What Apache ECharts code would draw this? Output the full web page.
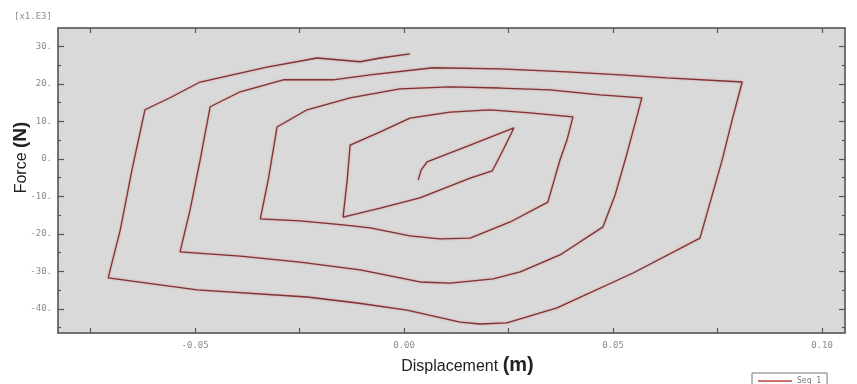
<!DOCTYPE html>
<html>
<head>
<meta charset="utf-8">
<script src="https://cdn.jsdelivr.net/npm/echarts@6/dist/echarts.min.js"></script>
<style>
html,body{margin:0;padding:0;background:#fff;}
#chart{width:857px;height:384px;}
</style>
</head>
<body>
<div id="chart"></div>
<script>
// Displacement (m)
const displacement = [
  0.0034, 0.0041, 0.0055, 0.0158, 0.0263, 0.0237, 0.0211, 0.0158, 0.0038, -0.0057, -0.0146, -0.0136, -0.0129,
  -0.0057, 0.0014, 0.0110, 0.0206, 0.0301, 0.0404,
  0.0390, 0.0373, 0.0344, 0.0254, 0.0158, 0.0086, 0.0014, -0.0081, -0.0146, -0.0249, -0.0344,
  -0.0325, -0.0313, -0.0304,
  -0.0232, -0.0129, -0.0010, 0.0110, 0.0230, 0.0349, 0.0469, 0.0569,
  0.0555, 0.0529, 0.0505, 0.0476, 0.0373, 0.0278, 0.0213, 0.0110, 0.0038, -0.0105, -0.0249, -0.0392, -0.0536,
  -0.0512, -0.0488, -0.0464,
  -0.0392, -0.0289, -0.0170, -0.0081, 0.0069, 0.0230, 0.0390, 0.0517, 0.0629, 0.0809,
  0.0785, 0.0761, 0.0708, 0.0548, 0.0366, 0.0246, 0.0182, 0.0134, 0.0007, -0.0112, -0.0232, -0.0495, -0.0708,
  -0.0679, -0.0651, -0.0620,
  -0.0560, -0.0488, -0.0328, -0.0208, -0.0105, -0.0057, 0.0014
];
// Force (N)
const force = [
  -5600, -2900, -800, 3700, 8300, 2400, -3200, -5100, -10400, -13100, -15500, -5600, 3700,
  7200, 10900, 12500, 13100, 12300, 11200,
  5100, -300, -11500, -16800, -21100, -21300, -20500, -18400, -17600, -16500, -16000,
  -5600, 2400, 8500,
  13100, 16300, 18700, 19200, 18900, 18400, 17100, 16300,
  10400, -300, -9600, -18100, -25600, -30100, -32000, -33100, -32800, -29600, -27500, -25900, -24800,
  -13600, -300, 13900,
  17900, 21100, 21100, 22400, 24300, 24000, 23200, 22400, 21600, 20500,
  10400, -300, -21100, -30400, -39700, -43700, -44000, -43500, -40300, -38400, -36800, -34900, -31700,
  -18900, -2900, 13100,
  16300, 20500, 24500, 26900, 25900, 26900, 28000
];
const xLabelValues = [-0.05, 0.00, 0.05, 0.10];
const xTickValues = [-0.075, -0.05, -0.025, 0.00, 0.025, 0.05, 0.075, 0.10];
const yLabelValues = [-40000, -30000, -20000, -10000, 0, 10000, 20000, 30000];
const yMinorValues = [-45000, -35000, -25000, -15000, -5000, 5000, 15000, 25000];
const seriesName = 'Seq 1';

const points = displacement.map((d, i) => [d, force[i]]);
const X_MIN = -0.0828, X_MAX = 0.1055, Y_MIN = -46400, Y_MAX = 34900;

const chart = echarts.init(document.getElementById('chart'), null, {renderer: 'canvas'});
const tickFont = {fontFamily: 'DejaVu Sans Mono', fontSize: 9, color: '#8a8a8a'};
function xAxisDef(pos, showLabel, ticks, len, showLine, nameObj) {
  const a = {
    type: 'value', position: pos, offset: 0, min: X_MIN, max: X_MAX,
    splitLine: {show: false},
    axisLine: {show: showLine, onZero: false, lineStyle: {color: '#5a5a5a', width: 1.5}},
    axisTick: {show: true, inside: true, length: len, customValues: ticks, lineStyle: {color: '#555', width: 1.2}},
    axisLabel: {show: showLabel, customValues: xLabelValues, margin: 8, ...tickFont,
      formatter: v => v.toFixed(2)}
  };
  if (nameObj) Object.assign(a, nameObj);
  return a;
}
function yAxisDef(pos, showLabel, ticks, len, showLine, nameObj) {
  const a = {
    type: 'value', position: pos, offset: 0, min: Y_MIN, max: Y_MAX,
    splitLine: {show: false},
    axisLine: {show: showLine, onZero: false, lineStyle: {color: '#5a5a5a', width: 1.5}},
    axisTick: {show: true, inside: true, length: len, customValues: ticks, lineStyle: {color: '#555', width: 1.2}},
    axisLabel: {show: showLabel, customValues: yLabelValues, margin: 6, ...tickFont,
      formatter: v => (Math.round(v / 1000)) + '.'}
  };
  if (nameObj) Object.assign(a, nameObj);
  return a;
}

chart.setOption({
  animation: false,
  backgroundColor: '#ffffff',
  grid: {left: 58, right: 12, top: 28, bottom: 51, containLabel: false, outerBoundsMode: 'none',
    show: true, backgroundColor: '#d9d9d9', borderColor: '#8a8a8a', borderWidth: 1},
  xAxis: [
    xAxisDef('bottom', true, xTickValues, 5, true, {
      name: '{a|Displacement }{b|(m)}', nameLocation: 'middle', nameGap: 22, nameMoveOverlap: false,
      nameTextStyle: {padding: [0, 0, 0, 32], rich: {
        a: {fontFamily: 'Liberation Sans', fontSize: 16, color: '#222', verticalAlign: 'bottom'},
        b: {fontFamily: 'Liberation Sans', fontSize: 20, fontWeight: 'bold', color: '#222', verticalAlign: 'bottom'}
      }}
    }),
    xAxisDef('top', false, xTickValues, 5, true, null)
  ],
  yAxis: [
    yAxisDef('left', true, yLabelValues, 6, true, {
      name: '{a|Force }{b|(N)}', nameLocation: 'middle', nameGap: 28, nameRotate: 90, nameMoveOverlap: false,
      nameTextStyle: {padding: [0, 0, 0, 46], rich: {
        a: {fontFamily: 'Liberation Sans', fontSize: 16, color: '#222', verticalAlign: 'bottom'},
        b: {fontFamily: 'Liberation Sans', fontSize: 19, fontWeight: 'bold', color: '#222', verticalAlign: 'bottom'}
      }}
    }),
    yAxisDef('left', false, yMinorValues, 3, false, null),
    yAxisDef('right', false, yLabelValues, 6, true, null),
    yAxisDef('right', false, yMinorValues, 3, false, null)
  ],
  legend: {
    show: true, left: 752, top: 373, orient: 'horizontal',
    borderColor: '#777', borderWidth: 1, padding: [4, 6, 4, 6],
    itemWidth: 34, itemHeight: 2, itemGap: 10,
    icon: 'rect',
    textStyle: {fontFamily: 'DejaVu Sans Mono', fontSize: 8, color: '#777'},
    data: [seriesName]
  },
  graphic: [
    {type: 'text', left: 14, top: 12, style: {text: '[x1.E3]', font: '9px "DejaVu Sans Mono"', fill: '#8a8a8a'}}
  ],
  series: [{
    name: seriesName, type: 'line', xAxisIndex: 0, yAxisIndex: 0,
    data: points, showSymbol: false, smooth: false,
    lineStyle: {color: '#7d3434', width: 1.3, shadowColor: 'rgba(215,110,110,0.7)', shadowBlur: 2},
    itemStyle: {color: '#c97070'}
  }]
});
</script>
</body>
</html>
